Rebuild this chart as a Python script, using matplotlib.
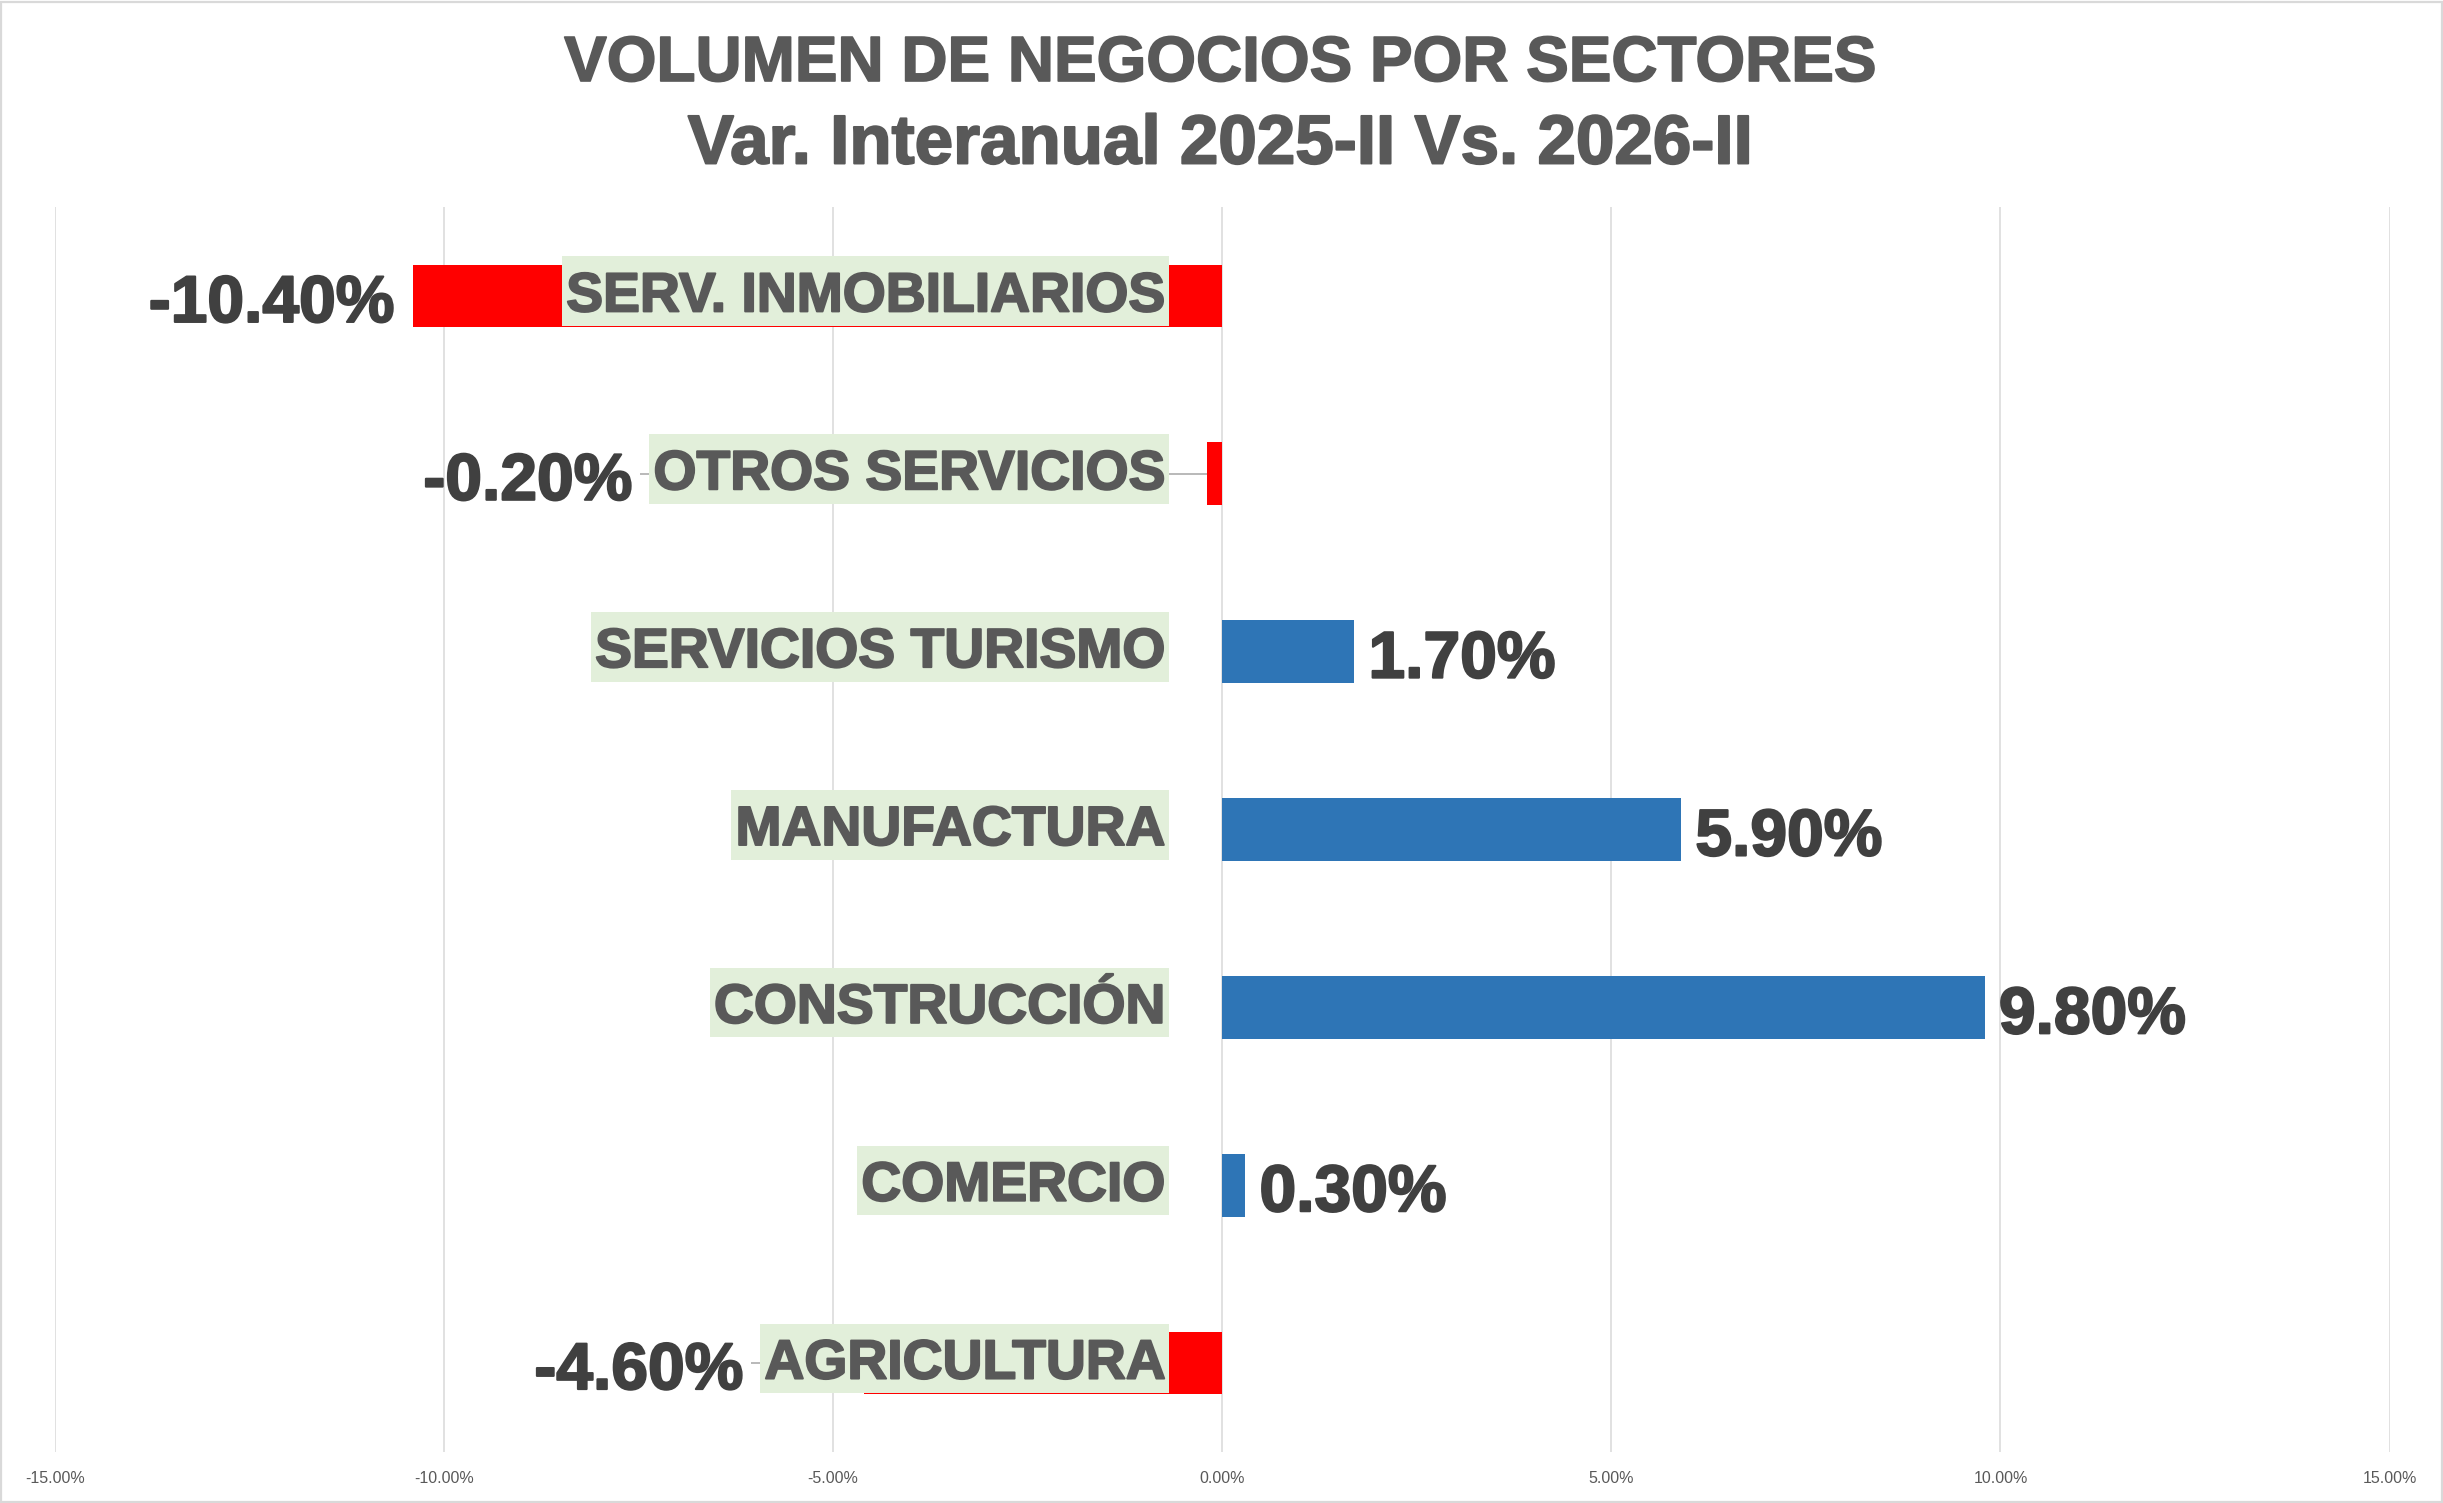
import matplotlib
matplotlib.use("Agg")
import matplotlib.pyplot as plt
import matplotlib.ticker as mticker
import matplotlib.patheffects as pe
from matplotlib.patches import Rectangle

# ---------------- data ----------------
categories = ["SERV. INMOBILIARIOS", "OTROS SERVICIOS", "SERVICIOS TURISMO",
              "MANUFACTURA", "CONSTRUCCIÓN", "COMERCIO", "AGRICULTURA"]
values = [-10.4, -0.2, 1.7, 5.9, 9.8, 0.3, -4.6]
xticks = [-15, -10, -5, 0, 5, 10, 15]
title_line1 = "VOLUMEN DE NEGOCIOS POR SECTORES"
title_line2 = "Var. Interanual 2025-II Vs. 2026-II"

# ---------------- style ----------------
W, H, DPI = 2443, 1503, 100
FONT = ["Liberation Sans", "DejaVu Sans"]
NEG_COLOR = "#FF0000"
POS_COLOR = "#2E75B6"
BOX_COLOR = "#E2EFDA"
CAT_COLOR = "#595959"
VAL_COLOR = "#404040"
GRID_COLOR = "#D9D9D9"
LEADER_COLOR = "#A6A6A6"
PT = 72.0 / DPI  # points per pixel


def heavy(color, lw):
    return [pe.withStroke(linewidth=lw, foreground=color)]


fig = plt.figure(figsize=(W / DPI, H / DPI), dpi=DPI)
fig.patch.set_facecolor("white")

ax_left, ax_right = 54.7 / W, 2389.6 / W
ax_top, ax_bot = 1 - 207 / H, 1 - 1452 / H
ax = fig.add_axes([ax_left, ax_bot, ax_right - ax_left, ax_top - ax_bot])

y = list(range(len(categories)))
colors = [NEG_COLOR if v < 0 else POS_COLOR for v in values]
ax.barh(y, values, height=0.352, color=colors, zorder=2)

ax.set_xlim(xticks[0], xticks[-1])
ax.set_ylim(len(categories) - 0.5, -0.5)
ax.set_xticks(xticks)
ax.xaxis.set_major_formatter(mticker.FuncFormatter(lambda v, p: f"{v:.2f}%"))
ax.tick_params(axis="x", length=0, pad=13.5, labelsize=11.5, labelcolor="#595959")
for lab in ax.get_xticklabels():
    lab.set_family(FONT)
ax.set_yticks([])
for s in ax.spines.values():
    s.set_visible(False)
ax.grid(axis="x", color=GRID_COLOR, lw=1.1, zorder=0)
ax.set_axisbelow(True)

# category labels (baseline 15.5 px below bar centre)
label_x = -0.73
CAT_FS = 39.8
CAT_BASE = 15.5
cat_texts = []
for yi, c in zip(y, categories):
    t = ax.annotate(c, (label_x, yi), xytext=(0, -CAT_BASE * PT), textcoords="offset points",
                    ha="right", va="baseline", fontsize=CAT_FS,
                    fontweight="bold", color=CAT_COLOR, family=FONT,
                    path_effects=heavy(CAT_COLOR, 1.4), zorder=5)
    cat_texts.append(t)

fig.canvas.draw()
renderer = fig.canvas.get_renderer()
inv = ax.transData.inverted()

# green boxes behind category labels
BOX_UP, BOX_DOWN, BOX_PADX = 55.0, 14.5, 4.0
boxes_px = []
for yi, t in zip(y, cat_texts):
    ext = t.get_window_extent(renderer)
    _, cy = ax.transData.transform((0, yi))
    base = cy - CAT_BASE
    x0, x1 = ext.x0 - BOX_PADX, ext.x1 + BOX_PADX
    y0, y1 = base - BOX_DOWN, base + BOX_UP
    (dx0, dy0), (dx1, dy1) = inv.transform([(x0, y0), (x1, y1)])
    ax.add_patch(Rectangle((min(dx0, dx1), min(dy0, dy1)), abs(dx1 - dx0), abs(dy1 - dy0),
                           fc=BOX_COLOR, ec="none", zorder=4))
    boxes_px.append((x0, x1))

VAL_FS = 47.5
VAL_DY = -26 * PT
for yi, v, (bx0, bx1) in zip(y, values, boxes_px):
    txt = f"{v:.2f}%"
    bar_end_px, bar_y_px = ax.transData.transform((v, yi))
    if v >= 0:
        ax.annotate(txt, (v, yi), xytext=(14 * PT, VAL_DY), textcoords="offset points",
                    ha="left", va="baseline", fontsize=VAL_FS, fontweight="bold",
                    color=VAL_COLOR, family=FONT,
                    path_effects=heavy(VAL_COLOR, 1.5), zorder=6)
    else:
        if bx0 < bar_end_px:
            label_right = bx0 - 17
            lx0 = inv.transform((bx0 - 9, bar_y_px))[0]
            ax.plot([lx0, v], [yi, yi], color=LEADER_COLOR, lw=1.1, zorder=3,
                    solid_capstyle="butt")
        else:
            label_right = bar_end_px - 18
        ax.annotate(txt, (v, yi), xytext=((label_right - bar_end_px) * PT, VAL_DY),
                    textcoords="offset points", ha="right", va="baseline",
                    fontsize=VAL_FS, fontweight="bold", color=VAL_COLOR,
                    family=FONT, path_effects=heavy(VAL_COLOR, 1.5), zorder=6)

# title
fig.text(0.4992, 1 - 81 / H, title_line1, ha="center", va="baseline", fontsize=46,
         fontweight="bold", color=CAT_COLOR, family=FONT,
         path_effects=heavy(CAT_COLOR, 1.2))
fig.text(0.4994, 1 - 163.5 / H, title_line2, ha="center", va="baseline", fontsize=49.8,
         fontweight="bold", color=CAT_COLOR, family=FONT,
         path_effects=heavy(CAT_COLOR, 1.4))

# chart border
fig.add_artist(Rectangle((1 / W, 1 / H), 1 - 2.5 / W, 1 - 2.5 / H,
                         transform=fig.transFigure, fill=False,
                         ec=GRID_COLOR, lw=1.6))

fig.savefig("out.png", dpi=DPI, facecolor="white")
